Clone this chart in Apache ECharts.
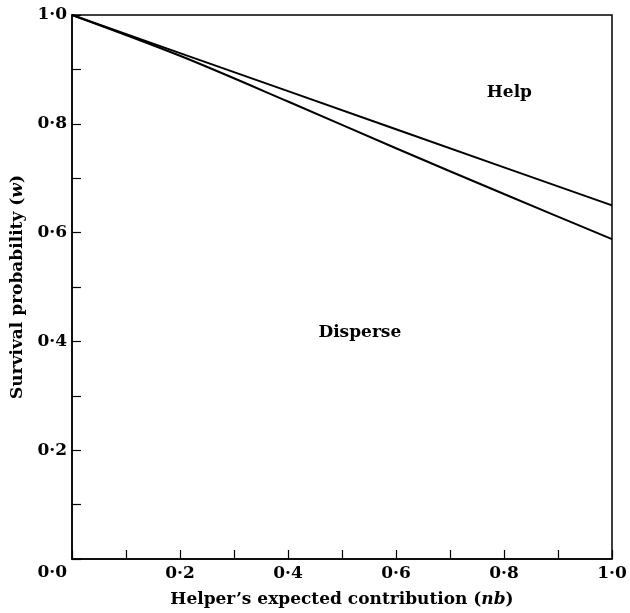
<!DOCTYPE html>
<html>
<head>
    <meta charset="utf-8" />
    <title>Help or disperse</title>
    <script type="text/javascript" src="https://cdn.jsdelivr.net/npm/echarts@6/dist/echarts.min.js"></script>
    <style>
        body { margin: 0; background: #fff; }
    </style>
</head>
<body>
<div id="main" style="width: 630px;height:613px;"></div>
<script type="text/javascript">
    // helper's expected contribution (nb)
    var contribution = [0, 0.2, 0.4, 0.6, 0.8, 1.0];
    // upper boundary line (straight)
    var upperLine = [1.0, 0.930, 0.860, 0.790, 0.720, 0.650];
    // lower boundary line
    var lowerLine = [1.0, 0.925, 0.841, 0.755, 0.671, 0.588];
    // region labels [x, y, text]
    var regionLabels = [[0.810, 0.857, 'Help'], [0.533, 0.417, 'Disperse']];

    var serif = 'DejaVu Serif';
    function fmt(v) {
        return v.toFixed(1).replace('.', '\u00b7');
    }
    function pairs(ys) {
        return contribution.map(function (x, i) { return [x, ys[i]]; });
    }

    var myChart = echarts.init(document.getElementById('main'));
    var option = {
        animation: false,
        grid: {
            left: 72, right: 18, top: 15, bottom: 54,
            outerBoundsMode: 'none',
            show: true, borderColor: '#000', borderWidth: 1.5
        },
        xAxis: {
            type: 'value', min: 0, max: 1, interval: 0.1,
            name: "Helper\u2019s expected contribution ({i|nb})",
            nameLocation: 'middle', nameGap: 32,
            nameTextStyle: {
                fontFamily: serif, fontWeight: 'bold', fontSize: 17, color: '#000',
                rich: { i: { fontFamily: serif, fontWeight: 'bold', fontStyle: 'italic', fontSize: 17, color: '#000' } }
            },
            axisLine: { lineStyle: { color: '#000', width: 1.5 } },
            axisTick: { inside: true, length: 9, lineStyle: { color: '#000', width: 1.2 } },
            axisLabel: {
                margin: 6, fontFamily: serif, fontWeight: 'bold', fontSize: 17, color: '#000',
                formatter: function (v) {
                    var k = Math.round(v * 10);
                    return (k % 2 === 0 && k !== 0) ? fmt(v) : '';
                }
            },
            splitLine: { show: false }
        },
        yAxis: {
            type: 'value', min: 0, max: 1, interval: 0.1,
            name: 'Survival probability ({i|w})',
            nameLocation: 'middle', nameGap: 39,
            nameTextStyle: {
                fontFamily: serif, fontWeight: 'bold', fontSize: 17, color: '#000',
                rich: { i: { fontFamily: serif, fontWeight: 'bold', fontStyle: 'italic', fontSize: 17, color: '#000' } }
            },
            axisLine: { lineStyle: { color: '#000', width: 1.5 } },
            axisTick: { inside: true, length: 9, lineStyle: { color: '#000', width: 1.2 } },
            axisLabel: {
                margin: 5, fontFamily: serif, fontWeight: 'bold', fontSize: 17, color: '#000',
                formatter: function (v) {
                    var k = Math.round(v * 10);
                    if (k === 0) return '{z|' + fmt(v) + '}';
                    return (k % 2 === 0) ? fmt(v) : '';
                },
                rich: { z: { fontFamily: serif, fontWeight: 'bold', fontSize: 17, color: '#000', padding: [28, 0, 0, 0] } }
            },
            splitLine: { show: false }
        },
        series: [
            {
                type: 'line', data: pairs(upperLine), symbol: 'none',
                lineStyle: { color: '#000', width: 2 }
            },
            {
                type: 'line', data: pairs(lowerLine), symbol: 'none', smooth: 0.3,
                lineStyle: { color: '#000', width: 2 }
            },
            {
                type: 'scatter', symbolSize: 0,
                itemStyle: { opacity: 1, color: '#000' },
                data: regionLabels.map(function (d) { return { value: [d[0], d[1]], name: d[2] }; }),
                label: {
                    show: true, position: 'inside', formatter: '{b}',
                    fontFamily: serif, fontWeight: 'bold', fontSize: 17, color: '#000'
                }
            }
        ]
    };
    myChart.setOption(option);
</script>
</body>
</html>
